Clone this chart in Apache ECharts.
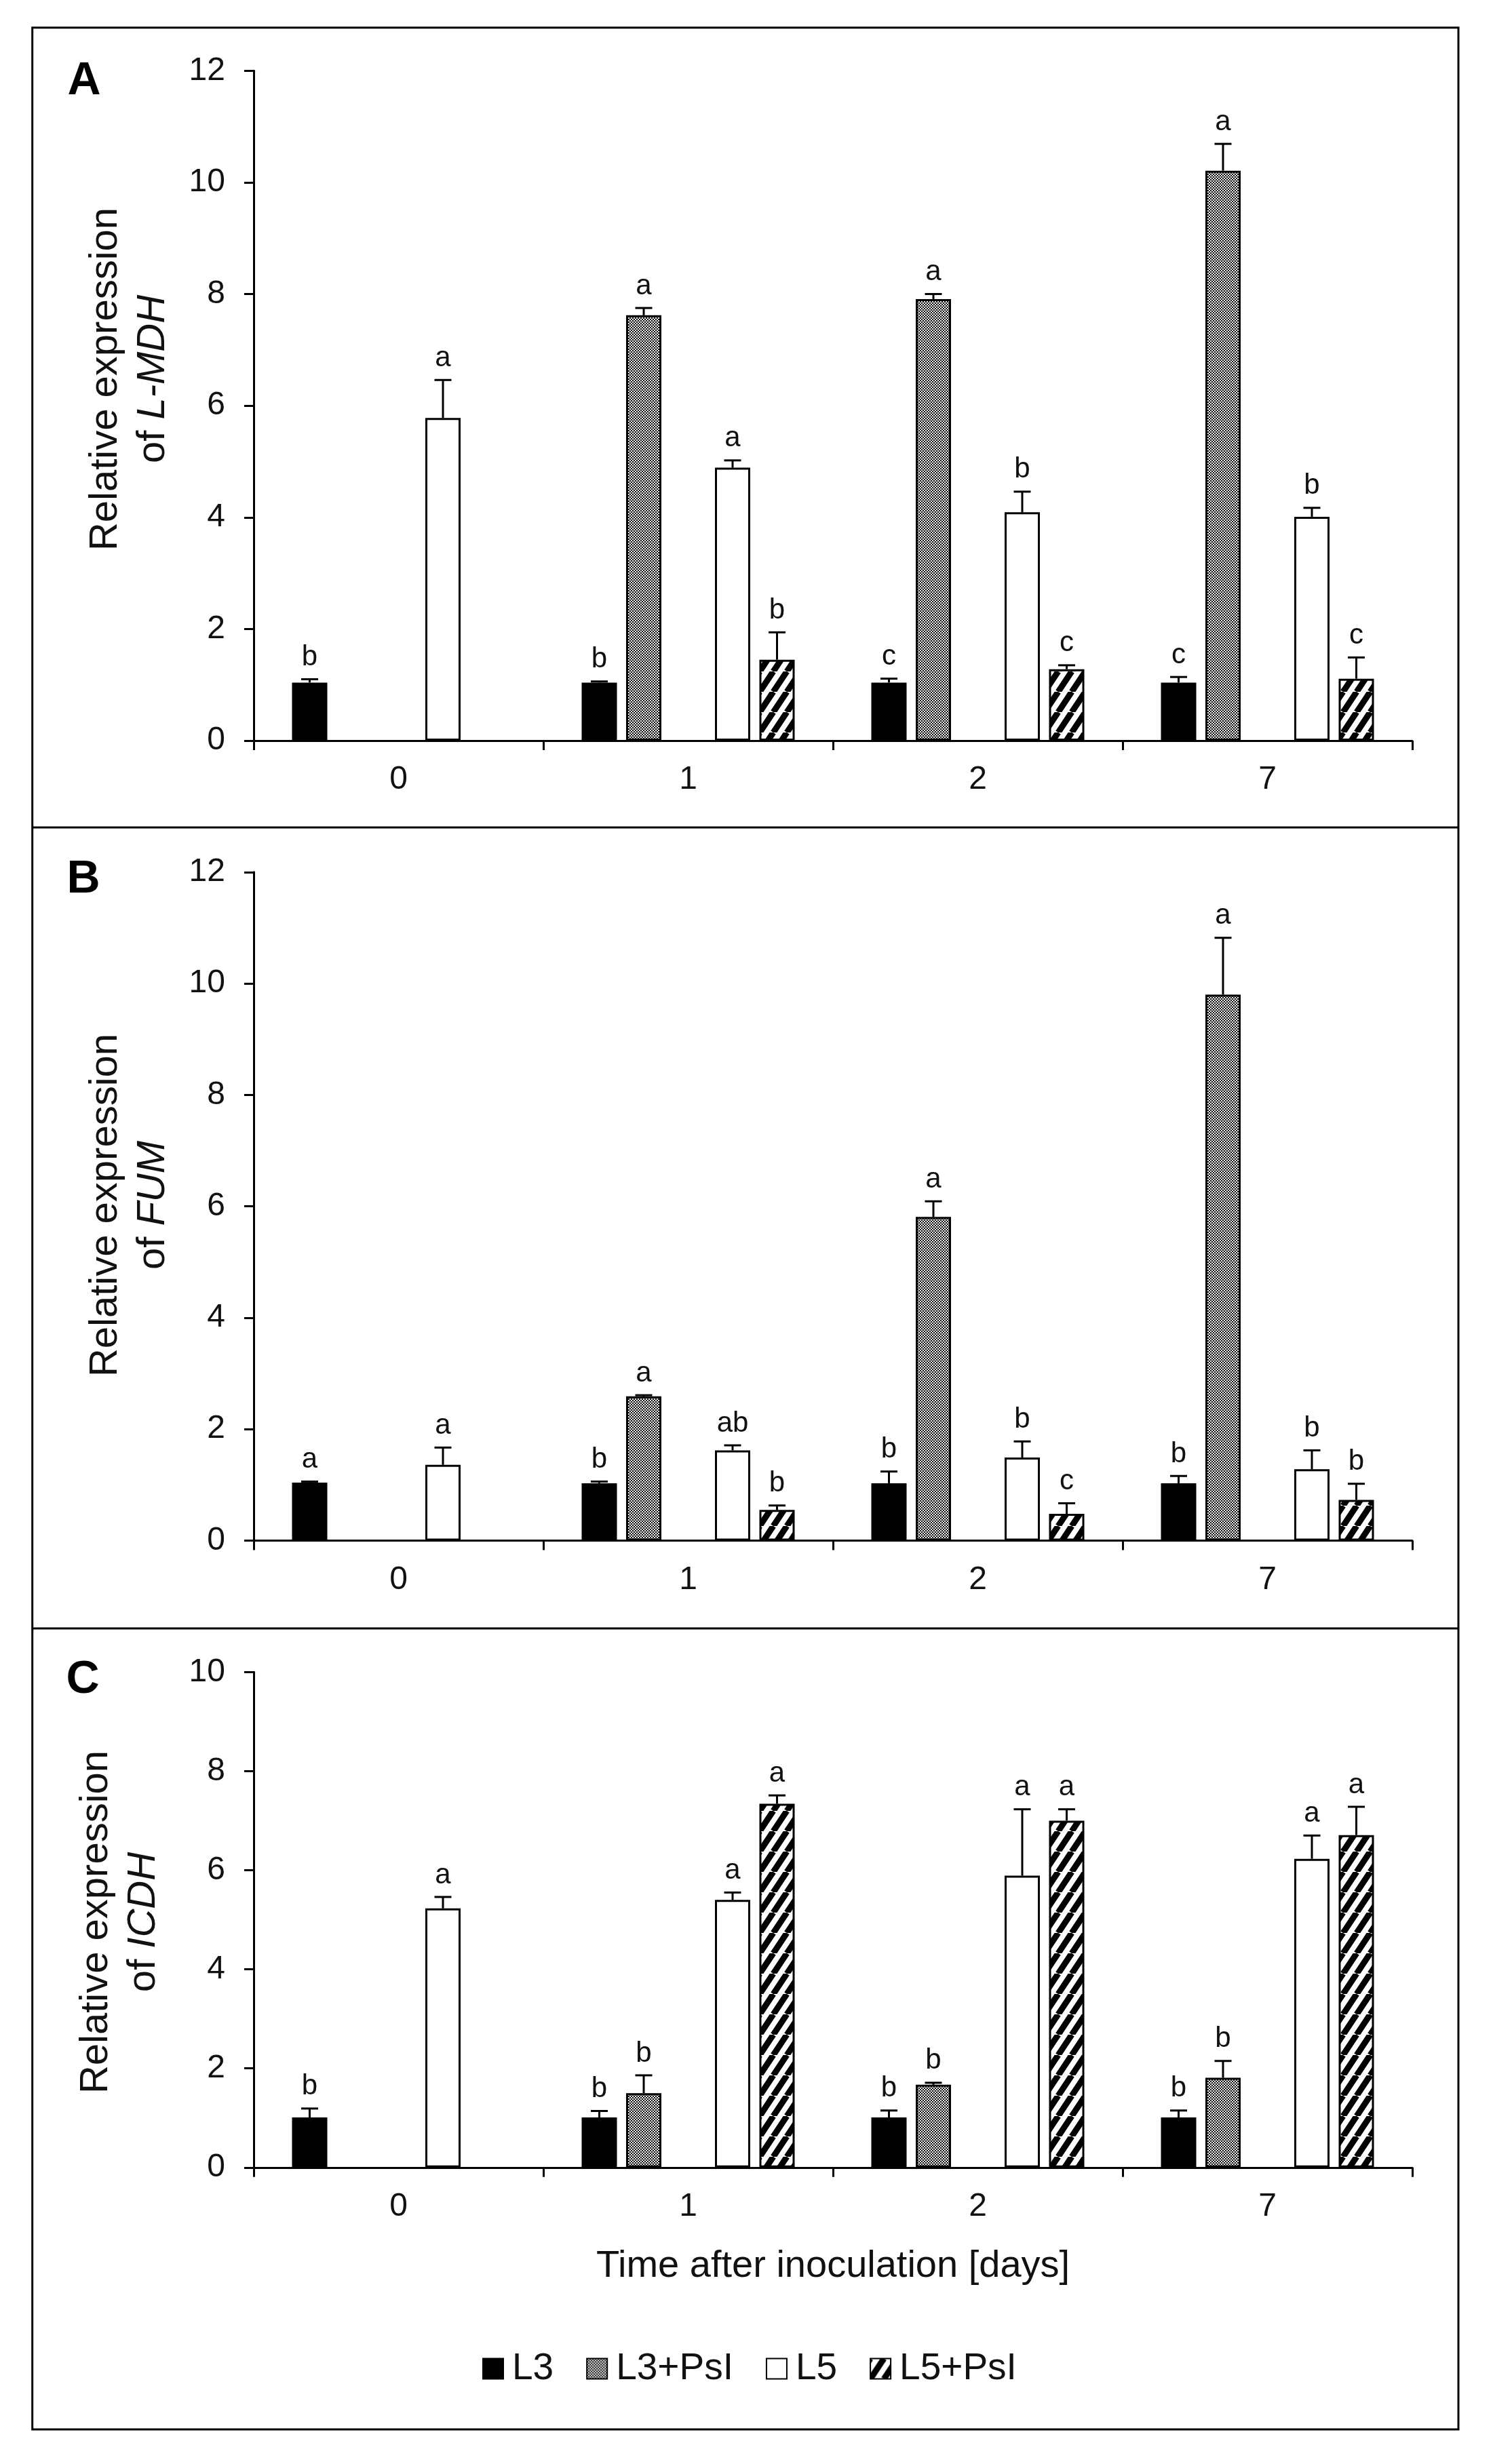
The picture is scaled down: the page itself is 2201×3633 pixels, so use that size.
<!DOCTYPE html>
<html><head><meta charset="utf-8">
<script src="https://cdn.jsdelivr.net/npm/echarts@6/dist/echarts.min.js"></script>
<style>html,body{margin:0;padding:0;background:#fff}#c{width:2201px;height:3633px}</style>
</head><body><div id="c"></div>
<script>
// ---------- data ----------
const days = ['0', '1', '2', '7'];
const groupNames = ['L3', 'L3+PsI', 'L5', 'L5+PsI'];

// Panel A: L-MDH
const mdhL3 = [1.04, 1.04, 1.04, 1.04];
const mdhL3PsI = [null, 7.62, 7.91, 10.21];
const mdhL5 = [5.78, 4.89, 4.09, 4.01];
const mdhL5PsI = [null, 1.45, 1.28, 1.11];
const mdhL3Err = [0.06, 0.02, 0.07, 0.10];
const mdhL3PsIErr = [null, 0.13, 0.09, 0.48];
const mdhL5Err = [0.68, 0.13, 0.37, 0.16];
const mdhL5PsIErr = [null, 0.49, 0.07, 0.38];
const mdhL3Sig = ['b', 'b', 'c', 'c'];
const mdhL3PsISig = [null, 'a', 'a', 'a'];
const mdhL5Sig = ['a', 'a', 'b', 'b'];
const mdhL5PsISig = [null, 'b', 'c', 'c'];

// Panel B: FUM
const fumL3 = [1.04, 1.03, 1.03, 1.03];
const fumL3PsI = [null, 2.59, 5.81, 9.80];
const fumL5 = [1.36, 1.62, 1.49, 1.28];
const fumL5PsI = [null, 0.55, 0.48, 0.73];
const fumL3Err = [0.02, 0.03, 0.21, 0.13];
const fumL3PsIErr = [null, 0.02, 0.28, 1.02];
const fumL5Err = [0.31, 0.09, 0.29, 0.34];
const fumL5PsIErr = [null, 0.08, 0.19, 0.29];
const fumL3Sig = ['a', 'b', 'b', 'b'];
const fumL3PsISig = [null, 'a', 'a', 'a'];
const fumL5Sig = ['a', 'ab', 'b', 'b'];
const fumL5PsISig = [null, 'b', 'c', 'b'];

// Panel C: ICDH
const icdhL3 = [1.01, 1.01, 1.01, 1.01];
const icdhL3PsI = [null, 1.50, 1.67, 1.81];
const icdhL5 = [5.23, 5.40, 5.89, 6.23];
const icdhL5PsI = [null, 7.34, 7.00, 6.71];
const icdhL3Err = [0.18, 0.13, 0.14, 0.14];
const icdhL3PsIErr = [null, 0.36, 0.04, 0.34];
const icdhL5Err = [0.23, 0.15, 1.34, 0.47];
const icdhL5PsIErr = [null, 0.17, 0.23, 0.57];
const icdhL3Sig = ['b', 'b', 'b', 'b'];
const icdhL3PsISig = [null, 'b', 'b', 'b'];
const icdhL5Sig = ['a', 'a', 'a', 'a'];
const icdhL5PsISig = [null, 'a', 'a', 'a'];

const yMaxA = 12, yMaxB = 12, yMaxC = 10, yInterval = 2;

// ---------- styling / layout ----------
const FONT = '"Liberation Sans", Arial, Helvetica, sans-serif';
const BAR_W = 52, BAR_GAP = 13.5;
const SLOT = BAR_W + BAR_GAP;
const PLOT_LEFT = 374, PLOT_W = 1708;
const gridBoxes = [
  { top: 104.3, height: 987.7 },
  { top: 1285.8, height: 985.7 },
  { top: 2465.3, height: 730.5 }
];

function checkerPattern() {
  const c = document.createElement('canvas');
  c.width = 4; c.height = 4;
  const g = c.getContext('2d');
  g.fillStyle = '#ededed'; g.fillRect(0, 0, 4, 4);
  g.fillStyle = '#111'; g.fillRect(0, 0, 2, 2); g.fillRect(2, 2, 2, 2);
  return c;
}
function stripePattern() {
  const W = 20, H = 30;
  const c = document.createElement('canvas');
  c.width = W; c.height = H;
  const g = c.getContext('2d');
  g.fillStyle = '#fff'; g.fillRect(0, 0, W, H);
  g.strokeStyle = '#000'; g.lineWidth = 9;
  for (let k = -1; k <= 1; k++) {
    g.beginPath(); g.moveTo(k * W, H); g.lineTo(k * W + W, 0); g.stroke();
  }
  return c;
}
const fills = [
  '#000',
  { image: checkerPattern(), repeat: 'repeat' },
  '#fff',
  { image: stripePattern(), repeat: 'repeat' }
];
const slots = [0, 1, 3, 4]; // slot 2 is an empty gap in the original figure

const panels = [
  { letter: 'A', gene: 'L-MDH', yMax: yMaxA,
    vals: [mdhL3, mdhL3PsI, mdhL5, mdhL5PsI],
    errs: [mdhL3Err, mdhL3PsIErr, mdhL5Err, mdhL5PsIErr],
    sigs: [mdhL3Sig, mdhL3PsISig, mdhL5Sig, mdhL5PsISig],
    titleX: [156, 226], titleY: 559, letterPos: [124, 120] },
  { letter: 'B', gene: 'FUM', yMax: yMaxB,
    vals: [fumL3, fumL3PsI, fumL5, fumL5PsI],
    errs: [fumL3Err, fumL3PsIErr, fumL5Err, fumL5PsIErr],
    sigs: [fumL3Sig, fumL3PsISig, fumL5Sig, fumL5PsISig],
    titleX: [156, 226], titleY: 1777, letterPos: [123, 1297] },
  { letter: 'C', gene: 'ICDH', yMax: yMaxC,
    vals: [icdhL3, icdhL3PsI, icdhL5, icdhL5PsI],
    errs: [icdhL3Err, icdhL3PsIErr, icdhL5Err, icdhL5PsIErr],
    sigs: [icdhL3Sig, icdhL3PsISig, icdhL5Sig, icdhL5PsISig],
    titleX: [142, 212], titleY: 2834, letterPos: [122, 2477] }
];

const grid = [], xAxis = [], yAxis = [], series = [], graphic = [];

panels.forEach((p, pi) => {
  grid.push({ left: PLOT_LEFT, width: PLOT_W, top: gridBoxes[pi].top, height: gridBoxes[pi].height, containLabel: false });
  const xa = {
    type: 'category', gridIndex: pi, data: days,
    axisLine: { lineStyle: { color: '#000', width: 3 } },
    axisTick: { show: true, length: 14, lineStyle: { color: '#000', width: 3 } },
    axisLabel: { fontSize: 48, fontFamily: FONT, color: '#111', margin: 34 },
    splitLine: { show: false }
  };
  if (pi === 2) {
    xa.name = 'Time after inoculation [days]';
    xa.nameLocation = 'middle';
    xa.nameGap = 118;
    xa.nameTextStyle = { fontSize: 56, fontFamily: FONT, color: '#111' };
  }
  xAxis.push(xa);
  yAxis.push({
    type: 'value', gridIndex: pi, min: 0, max: p.yMax, interval: yInterval,
    axisLine: { show: true, lineStyle: { color: '#000', width: 3 } },
    axisTick: { show: true, length: 14, lineStyle: { color: '#000', width: 3 } },
    axisLabel: { fontSize: 48, fontFamily: FONT, color: '#111', margin: 42 },
    splitLine: { show: false }
  });

  // bars (with empty gap series in the middle slot)
  const order = [0, 1, -1, 2, 3];
  order.forEach(g => {
    if (g < 0) {
      series.push({ type: 'bar', name: '_gap', xAxisIndex: pi, yAxisIndex: pi,
        data: days.map(() => null), barWidth: BAR_W, barGap: (BAR_GAP / BAR_W * 100) + '%', silent: true });
      return;
    }
    series.push({
      type: 'bar', name: groupNames[g], xAxisIndex: pi, yAxisIndex: pi,
      data: p.vals[g], barWidth: BAR_W, barGap: (BAR_GAP / BAR_W * 100) + '%',
      itemStyle: { color: fills[g], borderColor: '#000', borderWidth: 3 },
      z: 2
    });
  });

  // error bars + significance letters
  groupNames.forEach((name, g) => {
    const items = [];
    p.vals[g].forEach((v, ci) => {
      if (v == null) return;
      items.push({ value: [ci, v, p.errs[g][ci]], sig: p.sigs[g][ci] });
    });
    const off = (slots[g] - 2) * SLOT;
    series.push({
      type: 'custom', name: name + ' err', xAxisIndex: pi, yAxisIndex: pi,
      encode: { x: 0, y: 1 }, z: 5, silent: true,
      data: items.map(it => it.value),
      renderItem: (params, api) => {
        const it = items[params.dataIndex];
        const ci = api.value(0), v = api.value(1), e = api.value(2);
        const b = api.coord([ci, v]);
        const t = api.coord([ci, v + e]);
        const x = b[0] + off;
        return {
          type: 'group',
          children: [
            { type: 'line', shape: { x1: x, y1: b[1], x2: x, y2: t[1] }, style: { stroke: '#000', lineWidth: 3 } },
            { type: 'line', shape: { x1: x - 12.5, y1: t[1], x2: x + 12.5, y2: t[1] }, style: { stroke: '#000', lineWidth: 3 } },
            { type: 'text', x: x, y: t[1] - 11, style: { text: it.sig, fontSize: 42, fontFamily: FONT, fill: '#111', align: 'center', verticalAlign: 'bottom' } }
          ]
        };
      }
    });
  });

  // panel letter
  graphic.push({ type: 'text', x: p.letterPos[0], y: p.letterPos[1],
    style: { text: p.letter, fontSize: 68, fontWeight: 'bold', fontFamily: FONT, fill: '#000', align: 'center', verticalAlign: 'middle' } });
  // y-axis title (two lines)
  graphic.push({ type: 'text', x: p.titleX[0], y: p.titleY, rotation: Math.PI / 2,
    style: { text: 'Relative expression', fontSize: 58, fontFamily: FONT, fill: '#111', align: 'center', verticalAlign: 'middle' } });
  graphic.push({ type: 'text', x: p.titleX[1], y: p.titleY, rotation: Math.PI / 2,
    style: { text: '{n|of }{i|' + p.gene + '}', fontSize: 58, fontFamily: FONT, fill: '#111', align: 'center', verticalAlign: 'middle',
      rich: { n: { fontSize: 58, fontFamily: FONT, fill: '#111' }, i: { fontSize: 58, fontFamily: FONT, fontStyle: 'italic', fill: '#111' } } } });
});

// frame
const FL = 47.7, FR = 2150, FT = 40.8, FB = 3582;
graphic.push({ type: 'rect', shape: { x: FL, y: FT, width: FR - FL, height: FB - FT }, style: { fill: 'none', stroke: '#000', lineWidth: 3 }, z: 0 });
[1220, 2401].forEach(y => graphic.push({ type: 'line', shape: { x1: FL, y1: y, x2: FR, y2: y }, style: { stroke: '#000', lineWidth: 3 } }));

const option = {
  backgroundColor: '#fff',
  animation: false,
  grid, xAxis, yAxis, series, graphic,
  legend: {
    data: groupNames, left: 706, top: 3460,
    icon: 'rect', itemWidth: 30, itemHeight: 30, itemGap: 48,
    itemStyle: { borderColor: '#000', borderWidth: 2 },
    textStyle: { fontSize: 55, fontFamily: FONT, color: '#111', padding: [0, 0, 0, 8] }
  }
};
echarts.init(document.getElementById('c'), null, { renderer: 'canvas' }).setOption(option);
</script></body></html>
